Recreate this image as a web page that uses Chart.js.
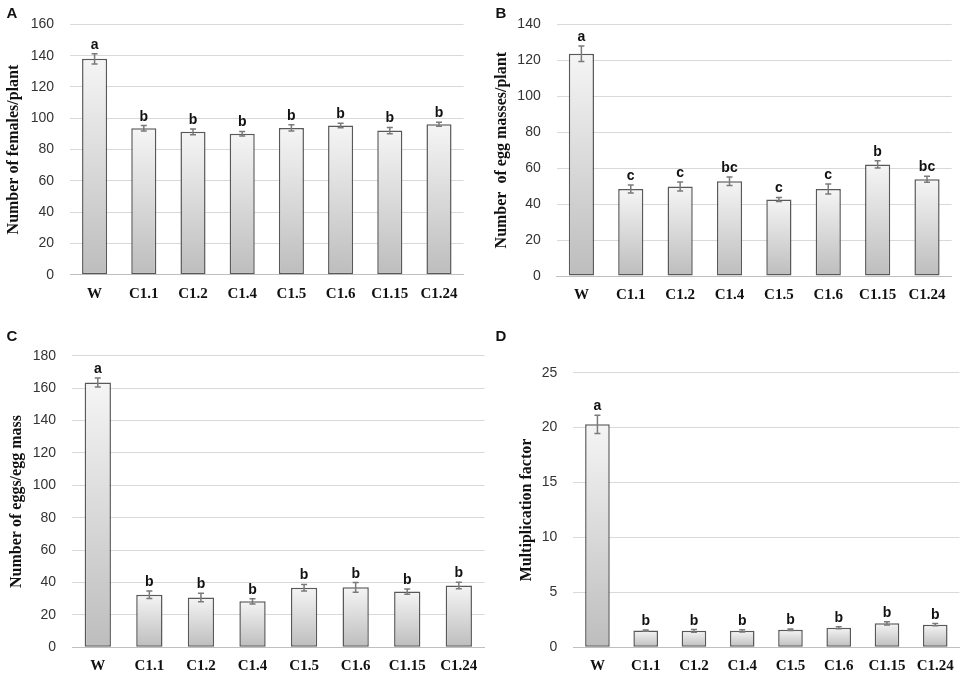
<!DOCTYPE html>
<html>
<head>
<meta charset="utf-8">
<script src="https://cdn.jsdelivr.net/npm/chart.js@4.4.1/dist/chart.umd.min.js"></script>
<style>
  html, body { margin: 0; padding: 0; background: #fff; width: 964px; height: 676px; overflow: hidden; }
  canvas { position: absolute; }
</style>
</head>
<body>
<canvas id="GraficoA" width="482" height="310" style="left:0;top:0"></canvas>
<canvas id="GraficoB" width="482" height="310" style="left:482px;top:0"></canvas>
<canvas id="GraficoC" width="490" height="356" style="left:0;top:320px"></canvas>
<canvas id="GraficoD" width="482" height="356" style="left:482px;top:320px"></canvas>
<script>
// Data
const Lineas = ['W', 'C1.1', 'C1.2', 'C1.4', 'C1.5', 'C1.6', 'C1.15', 'C1.24'];

const HembrasMedia  = [138.0, 93.6, 91.3, 90.1, 93.8, 95.4, 92.1, 96.2];
const HembrasError  = [3.3, 1.7, 1.9, 1.5, 2.0, 1.4, 2.0, 1.3];
const HembrasLetras = ['a', 'b', 'b', 'b', 'b', 'b', 'b', 'b'];
const HembrasTicks  = [0, 20, 40, 60, 80, 100, 120, 140, 160];

const MasasMedia  = [123.7, 48.4, 49.8, 52.7, 42.6, 48.4, 62.1, 53.8];
const MasasError  = [4.3, 2.2, 2.5, 2.4, 1.1, 2.8, 2.0, 1.7];
const MasasLetras = ['a', 'c', 'c', 'bc', 'c', 'c', 'b', 'bc'];
const MasasTicks  = [0, 20, 40, 60, 80, 100, 120, 140];

const HuevosMedia  = [163.5, 32.5, 30.7, 28.4, 36.8, 37.0, 34.4, 38.1];
const HuevosError  = [2.8, 2.3, 2.6, 1.6, 2.0, 3.0, 1.6, 2.0];
const HuevosLetras = ['a', 'b', 'b', 'b', 'b', 'b', 'b', 'b'];
const HuevosTicks  = [0, 20, 40, 60, 80, 100, 120, 140, 160, 180];

const FactorMedia  = [20.3, 1.52, 1.50, 1.50, 1.60, 1.78, 2.18, 2.06];
const FactorError  = [0.83, 0.05, 0.12, 0.10, 0.07, 0.10, 0.15, 0.10];
const FactorLetras = ['a', 'b', 'b', 'b', 'b', 'b', 'b', 'b'];
const FactorTicks  = [0, 5, 10, 15, 20, 25];

// error bars, significance letters and the panel letter
const PluginMarcas = {
  id: 'marcas',
  afterDatasetsDraw(Chart_, Args, Op) {
    const { ctx } = Chart_;
    const Y = Chart_.scales.y;
    const Meta = Chart_.getDatasetMeta(0);
    const Datos = Chart_.data.datasets[0].data;
    ctx.save();
    Meta.data.forEach((Barra, I) => {
      const X = Barra.x;
      const Arriba = Y.getPixelForValue(Datos[I] + Op.Errores[I]);
      const Abajo  = Y.getPixelForValue(Datos[I] - Op.Errores[I]);
      ctx.strokeStyle = '#7a7a7a';
      ctx.lineWidth = 1.5;
      ctx.beginPath();
      ctx.moveTo(X, Arriba); ctx.lineTo(X, Abajo);
      ctx.moveTo(X - 3, Arriba); ctx.lineTo(X + 3, Arriba);
      ctx.moveTo(X - 3, Abajo); ctx.lineTo(X + 3, Abajo);
      ctx.stroke();
      ctx.fillStyle = '#111';
      ctx.font = 'bold 14px "Liberation Sans", Arial, sans-serif';
      ctx.textAlign = 'center';
      ctx.textBaseline = 'alphabetic';
      ctx.fillText(Op.Letras[I], X, Arriba - 5);
    });
    ctx.font = 'bold 15px "Liberation Sans", Arial, sans-serif';
    ctx.textAlign = 'center';
    ctx.textBaseline = 'middle';
    ctx.fillStyle = '#111';
    ctx.fillText(Op.Panel, Op.PanelX, Op.PanelY);
    ctx.restore();
  }
};

function RellenoBarra(Ctx) {
  const { chart, dataIndex, dataset } = Ctx;
  const Y = chart.scales.y;
  if (!chart.chartArea || !Y) return '#dedede';
  const Top  = Y.getPixelForValue(dataset.data[dataIndex]);
  const Base = Y.getPixelForValue(0);
  const G = chart.ctx.createLinearGradient(0, Top, 0, Base);
  G.addColorStop(0, '#f5f5f5');
  G.addColorStop(1, '#bdbdbd');
  return G;
}

function CrearPanel(Id, Cfg) {
  return new Chart(document.getElementById(Id).getContext('2d'), {
    type: 'bar',
    data: {
      labels: Lineas,
      datasets: [{
        data: Cfg.Medias,
        backgroundColor: RellenoBarra,
        borderColor: '#595959',
        borderWidth: 1.5,
        borderSkipped: false,
        categoryPercentage: 1,
        barPercentage: 0.51
      }]
    },
    options: {
      responsive: false,
      animation: false,
      events: [],
      layout: { padding: { top: Cfg.PadTop, right: Cfg.PadRight, left: 0, bottom: 0 } },
      plugins: {
        legend: { display: false },
        tooltip: { enabled: false },
        marcas: {
          Errores: Cfg.Errores, Letras: Cfg.Letras,
          Panel: Cfg.Panel, PanelX: Cfg.PanelX, PanelY: Cfg.PanelY
        }
      },
      scales: {
        x: {
          grid: { display: false, drawTicks: false },
          border: { display: true, color: '#bfbfbf', width: 1 },
          ticks: {
            color: '#111', padding: Cfg.XPad,
            font: { family: '"Liberation Serif", "Times New Roman", serif', size: 15, weight: 'bold' }
          },
          afterFit: S => { S.height = Cfg.XAxisH; }
        },
        y: {
          min: 0,
          max: Cfg.Ticks[Cfg.Ticks.length - 1],
          afterBuildTicks: S => { S.ticks = Cfg.Ticks.map(V => ({ value: V })); },
          grid: { color: '#d9d9d9', lineWidth: 1, drawTicks: false },
          border: { display: false },
          ticks: {
            color: '#333', padding: 16,
            font: { family: '"Liberation Sans", Arial, sans-serif', size: 14 }
          },
          title: {
            display: true, text: Cfg.Titulo, color: '#111',
            padding: { top: Cfg.TitlePad, bottom: 0 },
            font: { family: '"Liberation Serif", "Times New Roman", serif', size: 16, weight: 'bold' }
          },
          afterFit: S => { S.width = Cfg.YAxisW; }
        }
      }
    },
    plugins: [PluginMarcas]
  });
}

CrearPanel('GraficoA', {
  Medias: HembrasMedia, Errores: HembrasError, Letras: HembrasLetras, Ticks: HembrasTicks,
  Titulo: 'Number of females/plant', Panel: 'A', PanelX: 12, PanelY: 14,
  YAxisW: 70, PadTop: 15.3, PadRight: 18.4, XAxisH: 35.3, XPad: 10, TitlePad: 4.4
});
CrearPanel('GraficoB', {
  Medias: MasasMedia, Errores: MasasError, Letras: MasasLetras, Ticks: MasasTicks,
  Titulo: 'Number  of egg masses/plant', Panel: 'B', PanelX: 19, PanelY: 14,
  YAxisW: 74.7, PadTop: 18.3, PadRight: 12.3, XAxisH: 34, XPad: 10, TitlePad: 10.4
});
CrearPanel('GraficoC', {
  Medias: HuevosMedia, Errores: HuevosError, Letras: HuevosLetras, Ticks: HuevosTicks,
  Titulo: 'Number of eggs/egg mass', Panel: 'C', PanelX: 12, PanelY: 17,
  YAxisW: 72, PadTop: 35.7, PadRight: 5.4, XAxisH: 28.7, XPad: 10, TitlePad: 7.4
});
CrearPanel('GraficoD', {
  Medias: FactorMedia, Errores: FactorError, Letras: FactorLetras, Ticks: FactorTicks,
  Titulo: 'Multiplication factor', Panel: 'D', PanelX: 19, PanelY: 17,
  YAxisW: 91.3, PadTop: 52.7, PadRight: 3.5, XAxisH: 28.7, XPad: 10, TitlePad: 35
});
</script>
</body>
</html>
